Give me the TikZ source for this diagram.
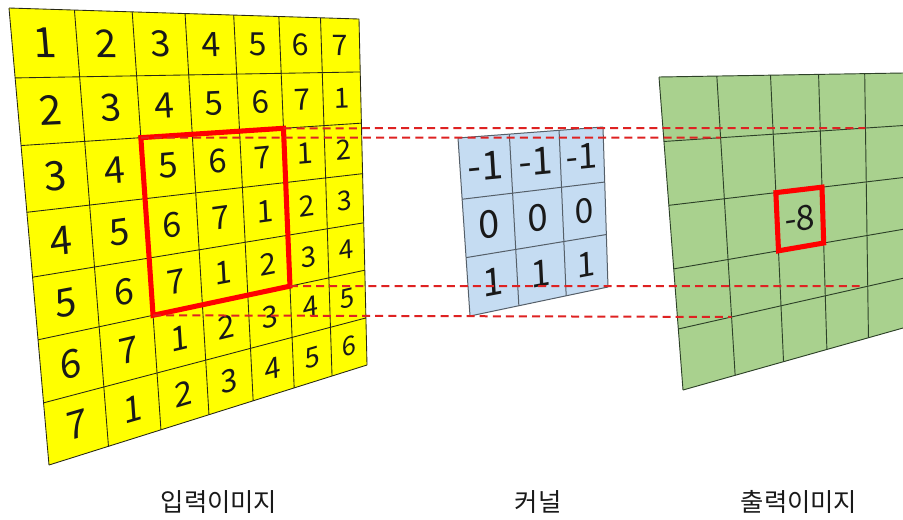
\documentclass[tikz,border=0pt]{standalone}
\usepackage{fontspec}
\setmainfont{Noto Sans CJK KR}
\usetikzlibrary{calc}
\definecolor{cellyellow}{RGB}{255,255,0}
\definecolor{kernelblue}{RGB}{197,220,242}
\definecolor{outgreen}{RGB}{169,209,142}
\definecolor{dashred}{RGB}{222,34,34}
\definecolor{boxred}{RGB}{255,0,0}
\definecolor{ingrid}{RGB}{40,40,20}
\definecolor{kgrid}{RGB}{85,95,105}
\definecolor{ogrid}{RGB}{45,65,40}
\newcommand\setcorners[8]{\def\Ax{#1}\def\Ay{#2}\def\Bx{#3}\def\By{#4}\def\Cx{#5}\def\Cy{#6}\def\Dx{#7}\def\Dy{#8}}
% #1 prefix, #2 U list, #3 n, #4 V list, #5 m
\newcommand\makepoints[5]{%
  \foreach \i in {0,...,#3}{%
    \foreach \j in {0,...,#5}{%
      \pgfmathsetmacro\uu{#2[\i]}%
      \pgfmathsetmacro\vv{#4[\j]}%
      \pgfmathsetmacro\xx{bx(\uu,\vv)}%
      \pgfmathsetmacro\yy{by(\uu,\vv)}%
      \coordinate (#1-\i-\j) at (\xx,\yy);
    }}}
% #1 name, #2 U list, #3 V list, #4 i, #5 j, #6 factor, #7 text
\newcommand\cellnum[7]{%
  \pgfmathtruncatemacro\ii{#4+1}%
  \pgfmathtruncatemacro\jj{#5+1}%
  \pgfmathsetmacro\ua{#2[#4]}%
  \pgfmathsetmacro\ub{#2[\ii]}%
  \pgfmathsetmacro\va{#3[#5]}%
  \pgfmathsetmacro\vb{#3[\jj]}%
  \pgfmathsetmacro\um{(\ua+\ub)/2}%
  \pgfmathsetmacro\vm{(\va+\vb)/2}%
  \pgfmathsetmacro\cx{bx(\um,\vm)}%
  \pgfmathsetmacro\cy{by(\um,\vm)}%
  \pgfmathsetmacro\wx{dux(\vm)*(\ub-\ua)}%
  \pgfmathsetmacro\wy{duy(\vm)*(\ub-\ua)}%
  \pgfmathsetmacro\hx{dvx(\um)*(\vb-\va)}%
  \pgfmathsetmacro\hy{dvy(\um)*(\vb-\va)}%
  \pgfmathsetmacro\ww{veclen(\wx,\wy)}%
  \pgfmathsetmacro\hh{veclen(\hx,\hy)}%
  \pgfmathsetmacro\sfac{(#6)*sqrt((\ww)*(\hh))}%
  \pgfmathsetmacro\ma{(\sfac)*(\wx)/(\ww)}%
  \pgfmathsetmacro\mb{-1*(\sfac)*(\wy)/(\ww)}%
  \pgfmathsetmacro\mc{-1*(\sfac)*(\hx)/(\hh)}%
  \pgfmathsetmacro\md{(\sfac)*(\hy)/(\hh)}%
  \node[numtext, cm={\ma,\mb,\mc,\md,(0,0)}] (#1) at (\cx,\cy) {#7};
}
\tikzset{
  declare function={
    bx(\fu,\fv)=(1-\fv)*((1-\fu)*\Ax+\fu*\Bx)+\fv*((1-\fu)*\Dx+\fu*\Cx);
    by(\fu,\fv)=(1-\fv)*((1-\fu)*\Ay+\fu*\By)+\fv*((1-\fu)*\Dy+\fu*\Cy);
    dux(\fv)=(1-\fv)*(\Bx-\Ax)+\fv*(\Cx-\Dx);
    duy(\fv)=(1-\fv)*(\By-\Ay)+\fv*(\Cy-\Dy);
    dvx(\fu)=(1-\fu)*(\Dx-\Ax)+\fu*(\Cx-\Bx);
    dvy(\fu)=(1-\fu)*(\Dy-\Ay)+\fu*(\Cy-\By);
  },
  numtext/.style={inner sep=0pt, outer sep=0pt, font=\fontsize{10}{12}\selectfont, text=black!90},
  inline/.style={draw=ingrid, line width=0.65pt},
  kline/.style={draw=kgrid, line width=0.75pt},
  oline/.style={draw=ogrid, line width=0.7pt},
  redbox/.style={draw=boxred, line width=3.8pt, line join=miter},
  dashline/.style={draw=dashred, line width=1.5pt, dash pattern=on 6pt off 3.8pt},
  labeltext/.style={font=\fontsize{19}{22}\selectfont, anchor=base, inner sep=0pt, text=black!90},
}
\def\inU{{0,0.187,0.352,0.503,0.642,0.771,0.89,1}}
\def\inV{{0,0.153,0.301,0.447,0.589,0.726,0.864,1}}
\def\kU{{0,0.354,0.697,1}}
\def\kV{{0,0.344,0.672,1}}
\def\oU{{0,0.237,0.457,0.654,0.843,1}}
\def\oV{{0,0.206,0.41,0.613,0.805,1}}
\begin{document}
\begin{tikzpicture}[x=0.75pt,y=-0.75pt]
\useasboundingbox (0,0) rectangle (903,519);
% ---------- input image ----------
\setcorners{9}{8}{359}{19}{367}{365}{49}{465}
\makepoints{in}{\inU}{7}{\inV}{7}
\fill[cellyellow] (in-0-0)--(in-7-0)--(in-7-7)--(in-0-7)--cycle;
\foreach \k in {0,...,7}{
  \draw[inline] (in-\k-0)--(in-\k-7);
  \draw[inline] (in-0-\k)--(in-7-\k);
}
\foreach \i in {0,...,6}{\foreach \j in {0,...,6}{%
  \pgfmathtruncatemacro\val{mod(\i+\j,7)+1}%
  \cellnum{in-n-\i-\j}{\inU}{\inV}{\i}{\j}{0.047}{\val}}}
\draw[redbox] (in-2-2)--(in-5-2)--(in-5-5)--(in-2-5)--cycle;
% ---------- kernel ----------
\setcorners{458}{138}{603}{127}{608}{287}{470}{316}
\makepoints{k}{\kU}{3}{\kV}{3}
\fill[kernelblue] (k-0-0)--(k-3-0)--(k-3-3)--(k-0-3)--cycle;
\foreach \k in {0,...,3}{
  \draw[kline] (k-\k-0)--(k-\k-3);
  \draw[kline] (k-0-\k)--(k-3-\k);
}
\foreach \j/\txt in {0/-1,1/0,2/1}{\foreach \i in {0,1,2}{%
  \cellnum{k-n-\i-\j}{\kU}{\kV}{\i}{\j}{0.053}{\txt}}}
% ---------- output ----------
\setcorners{659}{77}{903}{73}{903}{328}{683}{390}
\makepoints{out}{\oU}{5}{\oV}{5}
\fill[outgreen] (out-0-0)--(out-5-0)--(out-5-5)--(out-0-5)--cycle;
\foreach \k in {0,...,5}{
  \draw[oline] (out-\k-0)--(out-\k-5);
  \draw[oline] (out-0-\k)--(out-5-\k);
}
\cellnum{out-n-2-2}{\oU}{\oV}{2}{2}{0.05}{-8}
\draw[redbox] (out-2-2)--(out-3-2)--(out-3-3)--(out-2-3)--cycle;
% ---------- dashed connectors ----------
\coordinate (d3end) at ($(out-4-4)+(-8,0)$);
\draw[dashline] (in-5-2) -- (out-4-1);
\draw[dashline] (in-2-2) -- (out-1-1);
\draw[dashline] (in-5-5) -- (d3end);
\draw[dashline] (in-2-5) -- (out-1-4);
% ---------- labels ----------
\node[labeltext] (lab-in) at (219,511) {입력이미지};
\node[labeltext] (lab-k) at (538,511) {커널};
\node[labeltext] (lab-out) at (799,511) {출력이미지};
\end{tikzpicture}
\end{document}
